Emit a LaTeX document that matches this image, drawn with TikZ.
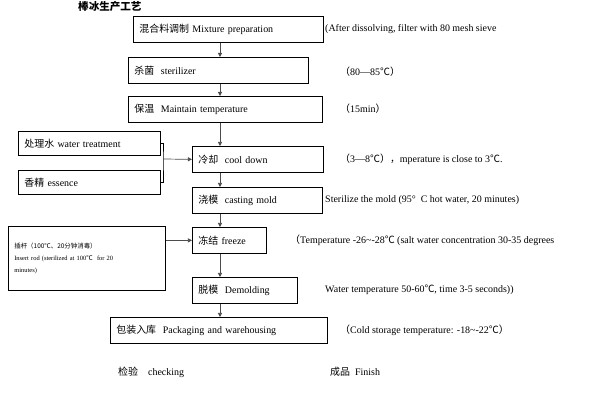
\documentclass[tikz,border=0pt]{standalone}
\usepackage{fontspec}
\setmainfont{Liberation Serif}
\newfontfamily\cjk{Noto Sans CJK SC}
\usetikzlibrary{arrows.meta}
\newcommand{\degc}{{\cjk ℃}}
\newcommand{\lp}{{\cjk （}}
\newcommand{\rp}{{\cjk ）}}
\begin{document}
\begin{tikzpicture}[x=0.03cm, y=-0.03cm, font=\fontsize{8.5}{10}\selectfont]
    \tikzset{
        stage/.style={draw, semithick, anchor=north west, align=left, inner xsep=0.18cm, minimum height=0.78cm},
        note/.style={anchor=west, inner sep=0pt},
        flow/.style={draw=black!70, semithick, -{Triangle[length=3.5pt, width=3.5pt]}}
    }
    \useasboundingbox (0,0) rectangle (600,400);
    \node[anchor=west, inner sep=0pt, font=\fontsize{9}{10}\selectfont\cjk\bfseries] (title) at (78,7) {棒冰生产工艺};
    % main line
    \node[stage, text width=5.34cm] (mix) at (133,16) {{\cjk 混合料调制} Mixture preparation};
    \node[stage, text width=5.04cm] (steril) at (128,57) {{\cjk 杀菌}\ \ sterilizer};
    \node[stage, text width=5.46cm] (keep) at (128,96) {{\cjk 保温}\ \ Maintain temperature};
    \node[stage, text width=3.57cm] (cool) at (192,146) {{\cjk 冷却}\ \ cool down};
    \node[stage, text width=3.54cm] (cast) at (192,187) {{\cjk 浇模}\ \ casting mold};
    \node[stage, text width=1.86cm] (freeze) at (192,227) {{\cjk 冻结} freeze};
    \node[stage, text width=2.79cm] (demold) at (192,277) {{\cjk 脱模}\ \ Demolding};
    \node[stage, text width=6.15cm] (pack) at (110,317) {{\cjk 包装入库}\ \ Packaging and warehousing};
    % side inputs
    \node[stage, text width=3.9cm, minimum height=0.72cm] (water) at (18,131) {{\cjk 处理水} water treatment};
    \node[stage, text width=3.9cm, minimum height=0.72cm] (essence) at (18,170) {{\cjk 香精} essence};
    \node[stage, text width=4.35cm, minimum height=1.92cm, font=\fontsize{5.5}{10}\selectfont] (rod) at (8,226)
        {{\cjk 插杆（100℃、20分钟消毒）}\\Insert rod (sterilized at 100\degc\ \ for 20\\minutes)};
    \coordinate (join) at (163,159);
    % notes
    \node[note] (n1) at (325,29) {(After dissolving, filter with 80 mesh sieve};
    \node[note] (n2) at (340,72) {\lp 80—85\degc\rp};
    \node[note] (n3) at (340,109) {\lp 15min\rp};
    \node[note] (n4) at (340,159) {\lp 3—8\degc\rp{\cjk ，}mperature is close to 3\degc.};
    \node[note] (n5) at (325,200) {Sterilize the mold (95°\ \ C hot water, 20 minutes)};
    \node[note] (n6) at (290,240) {\lp Temperature -26\textasciitilde-28\degc\ (salt water concentration 30-35 degrees};
    \node[note] (n7) at (325,290) {Water temperature 50-60\degc, time 3-5 seconds))};
    \node[note] (n8) at (340,330) {\lp Cold storage temperature: -18\textasciitilde-22\degc\rp};
    \node[note] (chk) at (118,372) {{\cjk 检验}\ \ \ \ checking};
    \node[note] (fin) at (330,372) {{\cjk 成品}\ \ Finish};
    % connectors
    \foreach \a/\b in {mix/steril, steril/keep, keep/cool, cool/cast, cast/freeze, freeze/demold, demold/pack}
        \draw[flow] (\a.south -| 220,0) -- (\b.north -| 220,0);
    \draw[semithick] (water.east) -| (join) |- (essence.east);
    \draw[flow] (join) -- (cool.west);
    \draw[flow] (rod.east |- freeze.west) -- (freeze.west);
\end{tikzpicture}
\end{document}
